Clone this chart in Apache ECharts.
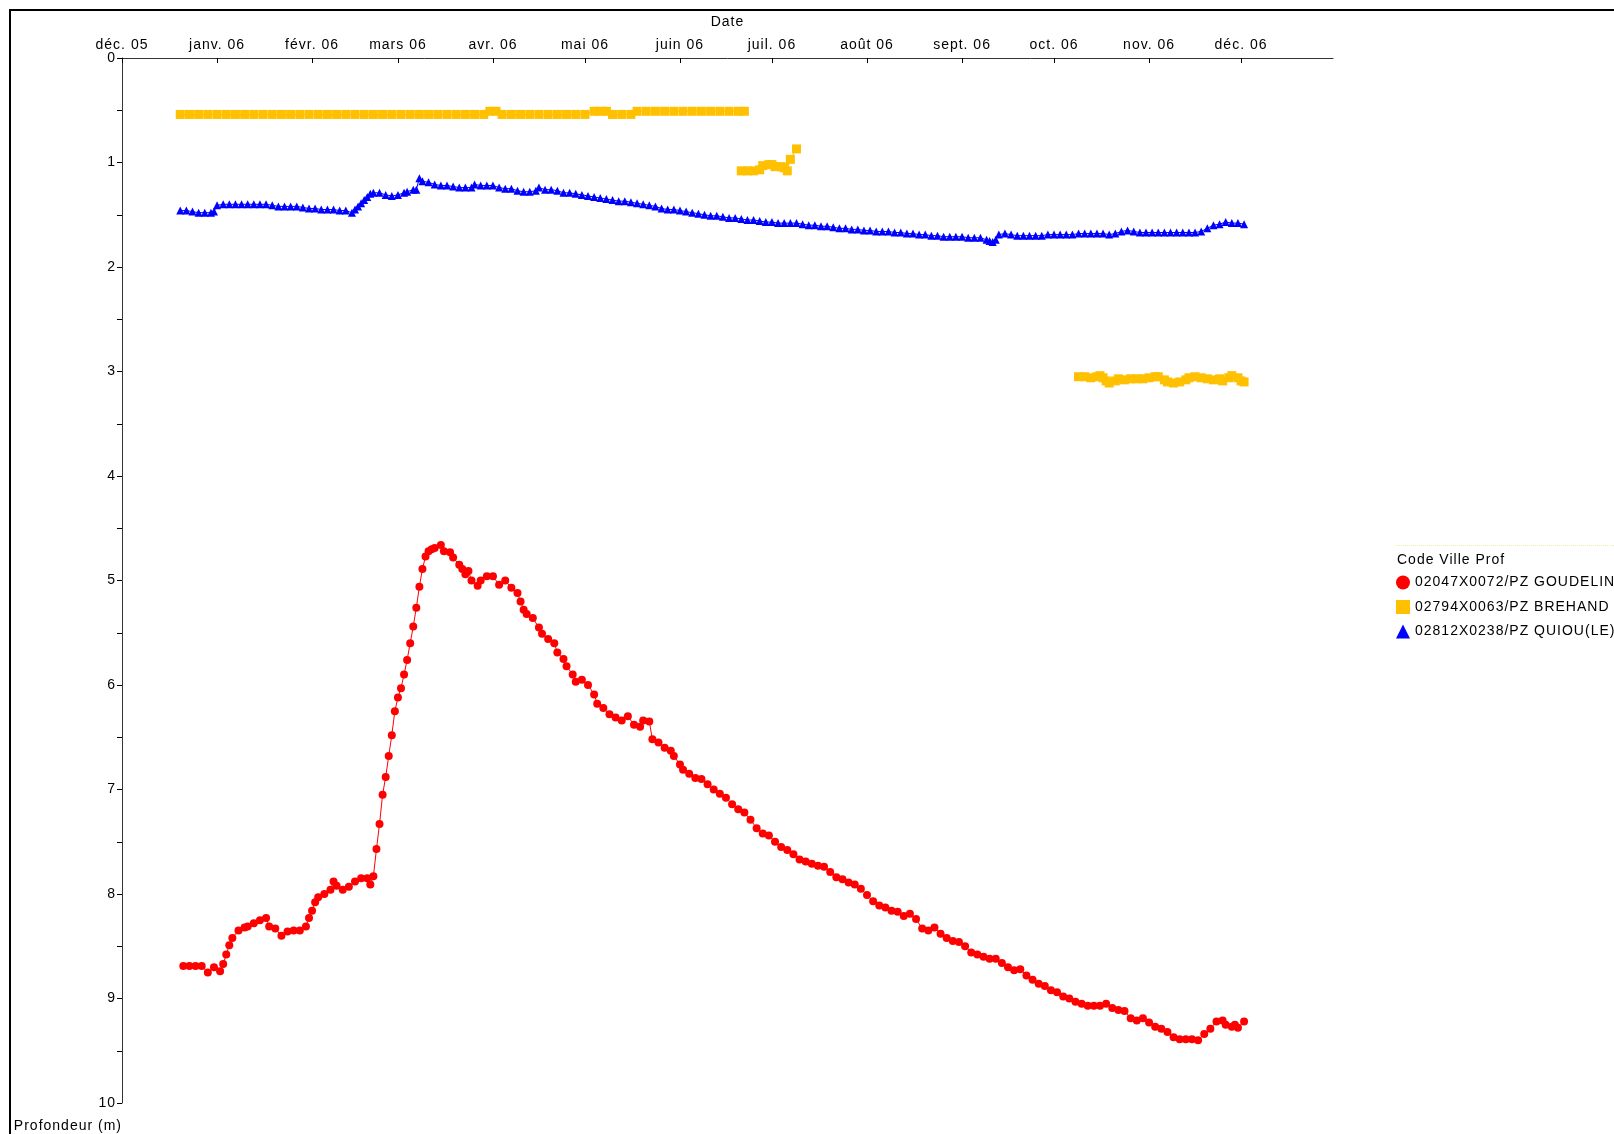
<!DOCTYPE html>
<html><head><meta charset="utf-8">
<script src="https://cdn.jsdelivr.net/npm/echarts@6/dist/echarts.min.js"></script>
<style>html,body{margin:0;padding:0;background:#fff}#c{width:1614px;height:1134px}</style>
</head><body><div id="c"></div><script>
// x values: days since 2005-12-01
const monthTicks = [0,31,62,90,121,151,182,212,243,274,304,335,365];
const monthLabels = ['déc. 05','janv. 06','févr. 06','mars 06','avr. 06','mai 06','juin 06','juil. 06','août 06','sept. 06','oct. 06','nov. 06','déc. 06'];
const seriesNames = ['02047X0072/PZ GOUDELIN','02794X0063/PZ BREHAND','02812X0238/PZ QUIOU(LE)'];

const goudelin = [[20,8.69],[22,8.69],[24,8.69],[26,8.69],[28,8.75],[30,8.70],[32,8.74],[33,8.67],[34,8.58],[35,8.49],[36,8.42],[38,8.35],[40,8.32],[41,8.31],[43,8.28],[45,8.25],[47,8.23],[48,8.31],[50,8.33],[52,8.40],[54,8.36],[56,8.35],[58,8.35],[60,8.31],[61,8.23],[62,8.16],[63,8.08],[64,8.03],[66,8.00],[68,7.96],[69,7.88],[70,7.92],[72,7.96],[74,7.93],[76,7.88],[78,7.85],[80,7.85],[81,7.91],[82,7.83],[83,7.57],[84,7.33],[85,7.05],[86,6.88],[87,6.68],[88,6.48],[89,6.25],[90,6.12],[91,6.03],[92,5.90],[93,5.76],[94,5.60],[95,5.44],[96,5.26],[97,5.06],[98,4.89],[99,4.77],[100,4.72],[101,4.70],[102,4.69],[104,4.66],[105,4.72],[107,4.73],[108,4.78],[110,4.85],[111,4.89],[112,4.94],[113,4.91],[114,5.00],[116,5.05],[117,5.00],[119,4.96],[121,4.96],[123,5.04],[125,5.00],[127,5.07],[129,5.12],[130,5.20],[131,5.28],[132,5.32],[134,5.36],[136,5.45],[137,5.51],[139,5.56],[141,5.60],[142,5.69],[144,5.75],[145,5.82],[147,5.90],[148,5.97],[150,5.95],[152,6.00],[154,6.09],[155,6.18],[157,6.22],[159,6.28],[161,6.31],[163,6.34],[165,6.30],[167,6.38],[169,6.40],[170,6.34],[172,6.35],[173,6.52],[175,6.55],[177,6.60],[179,6.63],[180,6.68],[182,6.76],[183,6.81],[185,6.85],[187,6.89],[189,6.90],[191,6.95],[193,7.00],[195,7.04],[197,7.08],[199,7.14],[201,7.19],[203,7.22],[205,7.29],[207,7.37],[209,7.42],[211,7.44],[213,7.50],[215,7.55],[217,7.58],[219,7.62],[221,7.67],[223,7.69],[225,7.71],[227,7.73],[229,7.74],[231,7.79],[233,7.84],[235,7.86],[237,7.89],[239,7.91],[241,7.95],[243,8.01],[245,8.07],[247,8.11],[249,8.13],[251,8.16],[253,8.17],[255,8.21],[257,8.19],[259,8.24],[261,8.33],[263,8.35],[265,8.32],[267,8.38],[269,8.42],[271,8.45],[273,8.46],[275,8.50],[277,8.56],[279,8.58],[281,8.60],[283,8.62],[285,8.62],[287,8.66],[289,8.70],[291,8.73],[293,8.72],[295,8.78],[297,8.82],[299,8.86],[301,8.88],[303,8.92],[305,8.94],[307,8.98],[309,9.00],[311,9.03],[313,9.05],[315,9.07],[317,9.07],[319,9.07],[321,9.05],[323,9.09],[325,9.11],[327,9.12],[329,9.19],[331,9.21],[333,9.19],[335,9.23],[337,9.27],[339,9.29],[341,9.32],[343,9.37],[345,9.39],[347,9.39],[349,9.39],[351,9.40],[353,9.34],[355,9.29],[357,9.22],[359,9.21],[360,9.25],[362,9.27],[363,9.25],[364,9.28],[366,9.22]];

const brehandA = [[19,0.54],[22,0.54],[25,0.54],[28,0.54],[31,0.54],[34,0.54],[37,0.54],[40,0.54],[43,0.54],[46,0.54],[49,0.54],[52,0.54],[55,0.54],[58,0.54],[61,0.54],[64,0.54],[67,0.54],[70,0.54],[73,0.54],[76,0.54],[79,0.54],[82,0.54],[85,0.54],[88,0.54],[91,0.54],[94,0.54],[97,0.54],[100,0.54],[103,0.54],[106,0.54],[109,0.54],[112,0.54],[115,0.54],[118,0.54],[120,0.51],[122,0.51],[124,0.54],[127,0.54],[130,0.54],[133,0.54],[136,0.54],[139,0.54],[142,0.54],[145,0.54],[148,0.54],[151,0.54],[154,0.51],[156,0.51],[158,0.51],[160,0.54],[163,0.54],[166,0.54],[168,0.51],[171,0.51],[174,0.51],[177,0.51],[180,0.51],[183,0.51],[186,0.51],[189,0.51],[192,0.51],[195,0.51],[198,0.51],[201,0.51],[203,0.51]];
const brehandB = [[202,1.08],[204,1.08],[206,1.08],[208,1.07],[209,1.03],[211,1.02],[212,1.02],[213,1.04],[215,1.04],[216,1.05],[217,1.08],[218,0.97],[220,0.87]];
const brehandC = [[312,3.05],[314,3.05],[316,3.06],[318,3.05],[319,3.04],[320,3.06],[321,3.09],[322,3.11],[324,3.09],[325,3.07],[327,3.08],[329,3.07],[331,3.07],[333,3.07],[335,3.06],[337,3.05],[338,3.05],[340,3.08],[341,3.10],[343,3.11],[345,3.10],[347,3.08],[348,3.06],[350,3.05],[352,3.06],[354,3.07],[356,3.08],[358,3.07],[359,3.09],[361,3.06],[362,3.04],[364,3.06],[365,3.09],[366,3.10]];

const quiou = [[19,1.46],[21,1.46],[23,1.47],[25,1.48],[27,1.48],[29,1.48],[30,1.47],[31,1.41],[33,1.40],[35,1.40],[37,1.40],[39,1.40],[41,1.40],[43,1.40],[45,1.40],[47,1.40],[49,1.41],[51,1.42],[53,1.42],[55,1.42],[57,1.42],[59,1.43],[61,1.44],[63,1.44],[65,1.45],[67,1.45],[69,1.45],[71,1.46],[73,1.46],[75,1.48],[76,1.45],[77,1.42],[78,1.39],[79,1.36],[80,1.33],[81,1.30],[82,1.29],[84,1.29],[86,1.31],[88,1.32],[90,1.31],[92,1.29],[93,1.28],[95,1.26],[96,1.26],[97,1.15],[98,1.18],[100,1.19],[102,1.21],[104,1.22],[106,1.22],[108,1.23],[110,1.24],[112,1.24],[114,1.24],[115,1.21],[117,1.22],[119,1.22],[121,1.22],[123,1.24],[125,1.25],[127,1.25],[129,1.27],[131,1.28],[133,1.28],[135,1.27],[136,1.24],[138,1.26],[140,1.26],[142,1.27],[144,1.29],[146,1.29],[148,1.30],[150,1.31],[152,1.32],[154,1.33],[156,1.34],[158,1.35],[160,1.36],[162,1.37],[164,1.37],[166,1.38],[168,1.39],[170,1.40],[172,1.41],[174,1.42],[176,1.44],[178,1.45],[180,1.45],[182,1.46],[184,1.47],[186,1.48],[188,1.49],[190,1.50],[192,1.51],[194,1.51],[196,1.52],[198,1.53],[200,1.53],[202,1.54],[204,1.55],[206,1.55],[208,1.56],[210,1.57],[212,1.57],[214,1.58],[216,1.58],[218,1.58],[220,1.58],[222,1.59],[224,1.60],[226,1.60],[228,1.61],[230,1.61],[232,1.62],[234,1.63],[236,1.63],[238,1.64],[240,1.64],[242,1.65],[244,1.65],[246,1.66],[248,1.66],[250,1.66],[252,1.67],[254,1.67],[256,1.68],[258,1.68],[260,1.69],[262,1.69],[264,1.70],[266,1.70],[268,1.71],[270,1.71],[272,1.71],[274,1.71],[276,1.72],[278,1.72],[280,1.72],[282,1.74],[283,1.75],[284,1.76],[285,1.74],[286,1.69],[288,1.68],[290,1.69],[292,1.70],[294,1.70],[296,1.70],[298,1.70],[300,1.70],[302,1.69],[304,1.69],[306,1.69],[308,1.69],[310,1.69],[312,1.68],[314,1.68],[316,1.68],[318,1.68],[320,1.68],[322,1.69],[324,1.68],[326,1.66],[328,1.65],[330,1.66],[332,1.67],[334,1.67],[336,1.67],[338,1.67],[340,1.67],[342,1.67],[344,1.67],[346,1.67],[348,1.67],[350,1.67],[352,1.66],[354,1.63],[356,1.60],[358,1.59],[360,1.57],[362,1.58],[364,1.58],[366,1.59]];

// the reference text is drawn with ~1px extra spacing between glyphs
(function () {
  const P = CanvasRenderingContext2D.prototype;
  const ft = P.fillText, mt = P.measureText;
  P.fillText = function (t, x, y, m) { try { this.letterSpacing = '1px'; } catch (e) {} return m === undefined ? ft.call(this, t, x, y) : ft.call(this, t, x, y, m); };
  P.measureText = function (t) { try { this.letterSpacing = '1px'; } catch (e) {} return mt.call(this, t); };
})();

const RED = '#ff0000', YEL = '#ffc000', BLUE = '#0000ff';
const FONT = "'Liberation Sans', Arial, sans-serif";

function lineSeries(name, data, color, symbol, size) {
  return {
    type: 'line', name: name, data: data,
    symbol: symbol, symbolSize: size, showAllSymbol: true,
    itemStyle: { color: color },
    lineStyle: { color: color, width: 1 },
    emphasis: { disabled: true },
    animation: false
  };
}

const chart = echarts.init(document.getElementById('c'), null, { renderer: 'canvas' });
chart.setOption({
  animation: false,
  backgroundColor: '#fff',
  textStyle: { fontFamily: FONT },
  grid: { left: 122, top: 58, right: 281, bottom: 31, containLabel: false },
  title: [{
    text: 'Code Ville Prof', left: 1397, top: 553, padding: 0,
    textStyle: { fontSize: 14, fontWeight: 'normal', color: '#000', fontFamily: FONT }
  }],
  legend: {
    orient: 'vertical', left: 1396, top: 575, padding: 0,
    itemWidth: 14, itemHeight: 14, itemGap: 9.5,
    textStyle: { fontSize: 14, color: '#000', fontFamily: FONT },
    data: [
      { name: seriesNames[0], icon: 'circle' },
      { name: seriesNames[1], icon: 'rect' },
      { name: seriesNames[2], icon: 'triangle' }
    ]
  },
  xAxis: {
    type: 'value', position: 'top', min: 0, max: 395,
    name: 'Date', nameLocation: 'middle', nameGap: 28,
    nameTextStyle: { fontSize: 14, color: '#000' },
    axisLine: { show: true, lineStyle: { color: '#333', width: 1 } },
    axisTick: { show: true, customValues: monthTicks, length: 5, inside: true, lineStyle: { color: '#000' } },
    axisLabel: {
      customValues: monthTicks, fontSize: 14, color: '#000', margin: 5,
      formatter: function (v) { const i = monthTicks.indexOf(Math.round(v)); return i >= 0 ? monthLabels[i] : ''; }
    },
    splitLine: { show: false }
  },
  yAxis: {
    type: 'value', min: 0, max: 10, interval: 1, inverse: true,
    name: 'Profondeur (m)', nameLocation: 'end', nameGap: 16,
    nameTextStyle: { fontSize: 14, color: '#000', align: 'right' },
    axisLine: { show: true, lineStyle: { color: '#333', width: 1 } },
    axisTick: { show: true, length: 5, lineStyle: { color: '#000' } },
    minorTick: { show: true, splitNumber: 2, length: 5, lineStyle: { color: '#000' } },
    axisLabel: { fontSize: 14, color: '#000', margin: 6 },
    splitLine: { show: false }
  },
  graphic: [
    { type: 'rect', silent: true, shape: { x: 10, y: 10, width: 3000, height: 3000 }, style: { fill: null, stroke: '#000', lineWidth: 2 } },
    { type: 'line', silent: true, shape: { x1: 1395, y1: 545.5, x2: 1614, y2: 545.5 }, style: { stroke: '#f3eca0', lineWidth: 1, lineDash: [1, 1] } }
  ],
  series: [
    lineSeries(seriesNames[0], goudelin, RED, 'circle', 8),
    lineSeries(seriesNames[1], brehandA, YEL, 'rect', 9),
    lineSeries(seriesNames[1], brehandB, YEL, 'rect', 9),
    lineSeries(seriesNames[1], brehandC, YEL, 'rect', 9),
    lineSeries(seriesNames[2], quiou, BLUE, 'triangle', 8)
  ]
});
</script></body></html>
